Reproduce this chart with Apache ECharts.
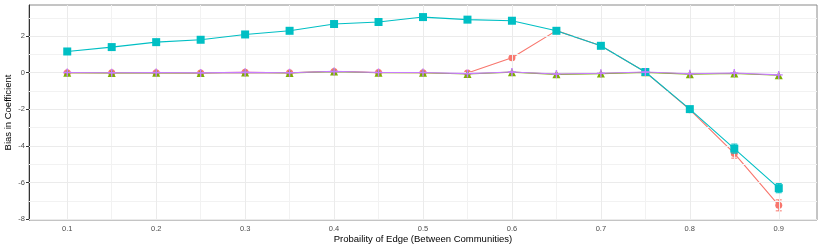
<!DOCTYPE html>
<html><head><meta charset="utf-8">
<script src="https://cdn.jsdelivr.net/npm/echarts@6/dist/echarts.min.js"></script>
<style>html,body{margin:0;padding:0;background:#fff}#c{width:822px;height:249px}</style>
</head><body><div id="c"></div>
<script>
const xVals = [0.1,0.15,0.2,0.25,0.3,0.35,0.4,0.45,0.5,0.55,0.6,0.65,0.7,0.75,0.8,0.85,0.9];
const redVals = [0.0,0.0,0.0,-0.01,0.02,0.0,0.06,0.01,0.0,-0.02,0.82,2.30,1.47,0.04,-2.02,-4.41,-7.25];
const greenVals = [0.0,-0.01,0.0,-0.02,0.01,-0.01,0.06,0.0,0.0,-0.07,0.03,-0.09,-0.05,0.02,-0.08,-0.04,-0.14];
const tealVals = [1.16,1.40,1.67,1.80,2.09,2.29,2.66,2.77,3.04,2.90,2.84,2.29,1.47,0.04,-1.99,-4.15,-6.31];
const purpleVals = [0.01,0.0,0.01,-0.01,0.02,0.0,0.07,0.01,0.01,-0.05,0.04,-0.07,-0.03,0.04,-0.06,-0.02,-0.12];
const redErr = [0.02,0.02,0.02,0.02,0.02,0.02,0.02,0.02,0.02,0.02,0.02,0.08,0.08,0.05,0.1,0.26,0.3];
const tealErr = [0.03,0.03,0.03,0.03,0.03,0.03,0.03,0.03,0.03,0.03,0.05,0.12,0.1,0.05,0.1,0.25,0.25];
const xTicks = [0.1,0.2,0.3,0.4,0.5,0.6,0.7,0.8,0.9];
const xMinor = [0.15,0.25,0.35,0.45,0.55,0.65,0.75,0.85];
const yTicks = [-8,-6,-4,-2,0,2];
const yMinor = [-7,-5,-3,-1,1,3];

const RED='#F8766D', GREEN='#7CAE00', TEAL='#00BFC4', PURPLE='#C77CFF';
const plus = 'path://M-0.18,-1 H0.18 V-0.18 H1 V0.18 H0.18 V1 H-0.18 V0.18 H-1 V-0.18 H-0.18 Z';

function pts(v){ return xVals.map((x,i)=>[x,v[i]]); }
function errData(v,e){ return xVals.map((x,i)=>[x,v[i]-e[i],v[i]+e[i]]); }
function errSeries(v,e,color,z){
  return {type:'custom', data:errData(v,e), z:z, silent:true,
    renderItem:function(params,api){
      const x=api.value(0), lo=api.coord([x,api.value(1)]), hi=api.coord([x,api.value(2)]);
      const w=3;
      const st={stroke:color,lineWidth:1,fill:null};
      return {type:'group',children:[
        {type:'line',shape:{x1:lo[0],y1:lo[1],x2:hi[0],y2:hi[1]},style:st},
        {type:'line',shape:{x1:lo[0]-w,y1:lo[1],x2:lo[0]+w,y2:lo[1]},style:st},
        {type:'line',shape:{x1:hi[0]-w,y1:hi[1],x2:hi[0]+w,y2:hi[1]},style:st}
      ]};
    }};
}
function lineSeries(v,color,symbol,size,z){
  return {type:'line',data:pts(v),symbol:symbol,symbolSize:size,showSymbol:true,z:z,
    lineStyle:{color:color,width:1.1},itemStyle:{color:color,opacity:1},animation:false};
}
const gridLines = {type:'line',data:[],z:1,silent:true,
  markLine:{silent:true,symbol:'none',label:{show:false},animation:false,
    data:[
      ...xMinor.map(v=>({xAxis:v,lineStyle:{color:'#F2F2F2',width:1,type:'solid'}})),
      ...yMinor.map(v=>({yAxis:v,lineStyle:{color:'#F2F2F2',width:1,type:'solid'}})),
      ...xTicks.map(v=>({xAxis:v,lineStyle:{color:'#EBEBEB',width:1,type:'solid'}})),
      ...yTicks.map(v=>({yAxis:v,lineStyle:{color:'#EBEBEB',width:1,type:'solid'}}))
    ]}};

const chart = echarts.init(document.getElementById('c'),null,{renderer:'canvas'});
chart.setOption({
  animation:false,
  grid:{left:29,top:5,right:5,bottom:29,containLabel:false,outerBoundsMode:'none',show:true,borderColor:'#8a8a8a',borderWidth:1,backgroundColor:'#fff'},
  xAxis:{type:'value',min:0.057,max:0.943,
    name:'Probaility of Edge (Between Communities)',nameLocation:'middle',nameGap:14.5,nameMoveOverlap:false,
    nameTextStyle:{fontFamily:'Liberation Sans, Arial, sans-serif',fontSize:9.5,color:'#000'},
    axisLine:{show:true,lineStyle:{color:'#333',width:1}},
    axisTick:{show:true,customValues:xTicks,length:3,lineStyle:{color:'#333'}},
    axisLabel:{customValues:xTicks,margin:5,fontSize:7.5,color:'#4D4D4D',fontFamily:'Liberation Sans, Arial, sans-serif',
      formatter:v=>String(Math.round(v*10)/10)},
    splitLine:{show:false}},
  yAxis:{type:'value',min:-8.05,max:3.7,
    name:'Bias in Coefficient',nameLocation:'middle',nameGap:15.5,nameMoveOverlap:false,
    nameTextStyle:{fontFamily:'Liberation Sans, Arial, sans-serif',fontSize:9.5,color:'#000'},
    axisLine:{show:true,lineStyle:{color:'#333',width:1}},
    axisTick:{show:true,customValues:yTicks,length:3,lineStyle:{color:'#333'}},
    axisLabel:{customValues:yTicks,margin:4,fontSize:7.5,color:'#4D4D4D',fontFamily:'Liberation Sans, Arial, sans-serif'},
    splitLine:{show:false}},
  series:[
    gridLines,
    lineSeries(redVals,RED,'circle',7,4),
    errSeries(redVals,redErr,RED,4),
    lineSeries(greenVals,GREEN,'triangle',8,5),
    lineSeries(tealVals,TEAL,'rect',8,6),
    errSeries(tealVals,tealErr,TEAL,6),
    lineSeries(purpleVals,PURPLE,plus,8,7)
  ]
});
</script></body></html>
